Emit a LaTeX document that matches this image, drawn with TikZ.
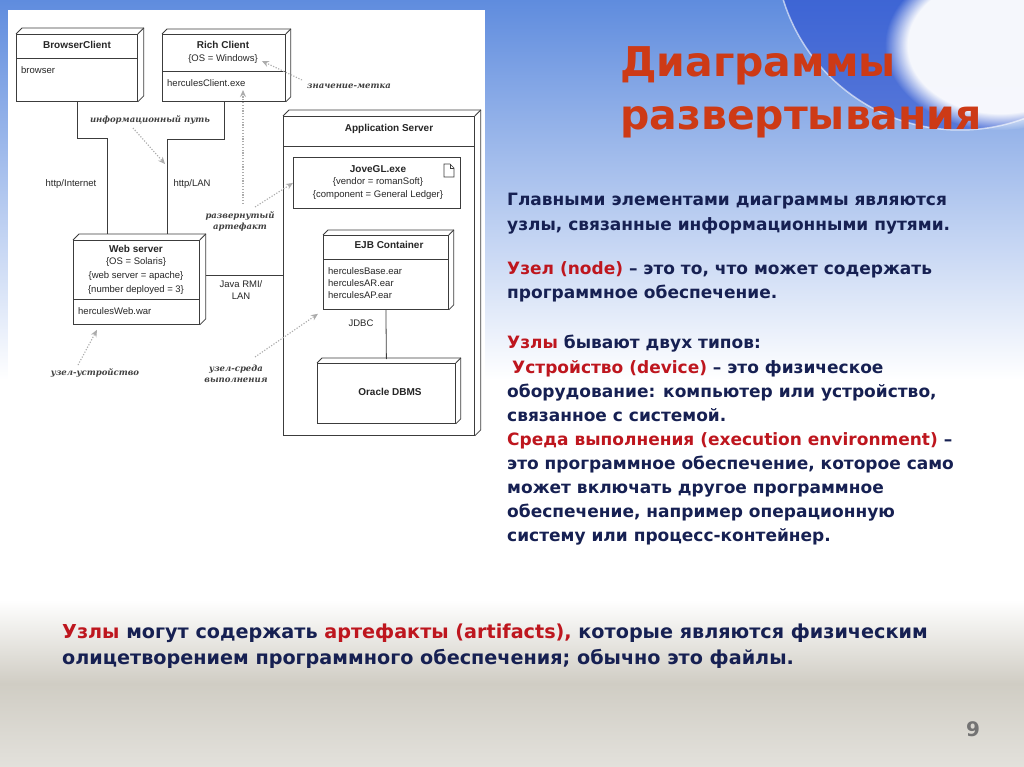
\documentclass[tikz,border=0pt]{standalone}
\usepackage{fontspec}
\setmainfont{DejaVu Sans}
\newfontfamily\dg{Liberation Sans}
\newfontfamily\nt{DejaVu Serif}
\usetikzlibrary{calc,arrows.meta,fadings}
\definecolor{navy}{RGB}{22,32,82}
\definecolor{redt}{RGB}{190,22,30}
\definecolor{titler}{RGB}{205,58,22}
\definecolor{bluebg}{RGB}{95,140,222}
\definecolor{bluelt}{RGB}{150,185,240}
\definecolor{bluedk}{RGB}{35,70,205}
\definecolor{graybg}{RGB}{208,205,196}
\definecolor{lineg}{RGB}{60,60,60}
\tikzset{
 box/.style={draw=lineg, line width=0.8pt, fill=white, anchor=north west, inner sep=0pt},
 dtxt/.style={font=\dg\fontsize{9.5}{12}\selectfont, inner sep=0pt, text=black!85},
 dtitle/.style={font=\dg\bfseries\fontsize{10}{12}\selectfont, inner sep=0pt, text=black!85},
 conn/.style={draw=lineg, line width=0.8pt},
 note/.style={draw=gray!65, line width=1.1pt, dash pattern=on 1.2pt off 1.6pt, -{Stealth[length=7pt,width=6pt]}},
 ntxt/.style={font=\nt\itshape\bfseries\fontsize{8.5}{11}\selectfont, inner sep=0pt, text=black!75},
 body/.style={font=\bfseries\fontsize{17}{19}\selectfont, text=navy, anchor=base west, inner sep=0pt},
 foot/.style={font=\bfseries\fontsize{19.2}{22}\selectfont, text=navy, anchor=base west, inner sep=0pt},
 ttl/.style={font=\bfseries\fontsize{41}{50}\selectfont, text=titler, anchor=base west, inner sep=0pt},
}
\newcommand\threed[2]{%
 \draw[conn] (#1.north west) -- ++(#2,-#2) -- ($(#1.north east)+(#2,-#2)$) -- ($(#1.south east)+(#2,-#2)$) -- (#1.south east);
 \draw[conn] (#1.north east) -- ++(#2,-#2);}
\begin{document}
\begin{tikzpicture}[x=1pt,y=-1pt]
\useasboundingbox (0,0) rectangle (1024,767);
% background
\fill[white] (0,0) rectangle (1024,767);
\shade[top color=bluebg, bottom color=white] (0,0) rectangle (1024,380);
\fill[bluedk, opacity=0.55] (960,-55) circle (185);
\fill[white, path fading=circle with fuzzy edge 20 percent, opacity=0.95] (1000,45) ellipse (115 and 85);
\draw[white, opacity=0.6, line width=1.5pt] (960,-55) circle (185);
\fill[white] (8,10) rectangle (485,445);
\shade[top color=white, bottom color=graybg!60, middle color=graybg] (0,600) rectangle (1024,767);

% BrowserClient
\node[box, minimum width=121, minimum height=67] (bc) at (16,34) {};
\threed{bc}{6}
\draw[conn] (bc.west |- 0,58) -- (bc.east |- 0,58);
\node[dtitle] (bct) at (77,45) {BrowserClient};
\node[dtxt, anchor=west] (bcb) at (21,70) {browser};

% Rich Client
\node[box, minimum width=123, minimum height=67] (rc) at (162,34) {};
\threed{rc}{5}
\draw[conn] (rc.west |- 0,71) -- (rc.east |- 0,71);
\node[dtitle] (rct) at (223,45) {Rich Client};
\node[dtxt] (rcos) at (223,59) {\{OS = Windows\}};
\node[dtxt, anchor=west] (hce) at (167,83) {herculesClient.exe};

% Web server
\node[box, minimum width=126, minimum height=84] (ws) at (73,240) {};
\threed{ws}{6}
\draw[conn] (ws.west |- 0,299) -- (ws.east |- 0,299);
\node[dtitle] (wst) at (136,249) {Web server};
\node[dtxt] (ws1) at (136,262) {\{OS = Solaris\}};
\node[dtxt] (ws2) at (136,276) {\{web server = apache\}};
\node[dtxt] (ws3) at (136,290) {\{number deployed = 3\}};
\node[dtxt, anchor=west] (wsw) at (78,311) {herculesWeb.war};

% Application Server
\node[box, minimum width=191, minimum height=319] (as) at (283,116) {};
\threed{as}{6}
\draw[conn] (as.west |- 0,146) -- (as.east |- 0,146);
\node[dtitle] (ast) at (389,129) {Application Server};

% JoveGL artifact
\node[box, minimum width=167, minimum height=51] (jv) at (293,157) {};
\node[dtitle] (jvt) at (378,169) {JoveGL.exe};
\node[dtxt] (jv1) at (378,182) {\{vendor = romanSoft\}};
\node[dtxt] (jv2) at (378,195) {\{component = General Ledger\}};
\draw[lineg, line width=0.6pt] (444,164) -- (450,164) -- (454,168) -- (454,177) -- (444,177) -- cycle;
\draw[lineg, line width=0.6pt] (450,164) -- (450,168) -- (454,168);

% EJB Container
\node[box, minimum width=125, minimum height=74] (ejb) at (323,235) {};
\threed{ejb}{5}
\draw[conn] (ejb.west |- 0,259) -- (ejb.east |- 0,259);
\node[dtitle] (ejbt) at (389,245) {EJB Container};
\node[dtxt, anchor=west] (e1) at (328,271) {herculesBase.ear};
\node[dtxt, anchor=west] (e2) at (328,283) {herculesAR.ear};
\node[dtxt, anchor=west] (e3) at (328,295) {herculesAP.ear};

% Oracle DBMS
\node[box, minimum width=138, minimum height=60] (ora) at (317,363) {};
\threed{ora}{5}
\node[dtitle] (orat) at (390,392) {Oracle DBMS};

% communication paths
\draw[conn] (bc.south) -- (bc.south |- 0,138) -| ($(ws.north west)+(34,-6)$);
\draw[conn] (rc.south) -- (rc.south |- 0,139) -| ($(ws.north west)+(94,-6)$);
\draw[conn] ($(ws.north east)+(6,35)$) -- (as.west |- 0,275);
\draw[conn] (ejb.south) -- ($(ora.north)+(0,-4)$);
\node[dtxt] (lhi) at (71,184) {http/Internet};
\node[dtxt] (lhl) at (192,184) {http/LAN};
\node[dtxt, align=center] (lrmi) at (241,290) {Java RMI/\\LAN};
\node[dtxt] (ljdbc) at (361,323) {JDBC};

% annotations
\node[ntxt] (nzm) at (349,86) {значение-метка};
\coordinate (zmS) at (302,80);
\draw[note] (zmS) -- ($(rcos.east)+(4,2)$);
\node[ntxt] (nip) at (150,120) {информационный путь};
\coordinate (ipS) at (133,128);
\coordinate (ipE) at (165,164);
\draw[note] (ipS) -- (ipE);
\node[ntxt, align=center] (nra) at (240,221) {развернутый\\артефакт};
\coordinate (raS1) at (243,204);
\coordinate (raE1) at (243,90);
\draw[note] (raS1) -- (raE1);
\coordinate (raS2) at (255,207);
\draw[note] (raS2) -- (jv.west);
\node[ntxt] (nuu) at (95,373) {узел-устройство};
\coordinate (uuS) at (78,365);
\draw[note] (uuS) -- ($(ws.south west)+(24,5)$);
\node[ntxt, align=center] (nus) at (236,374) {узел-среда\\выполнения};
\coordinate (usS) at (255,357);
\draw[note] (usS) -- ($(ejb.south west)+(-5,4)$);

% title
\node[ttl] (t1) at (620,77) {Диаграммы};
\node[ttl] (t2) at (620,130) {развертывания};

% body text
\node[body] (b1) at (507,206) {Главными элементами диаграммы являются};
\node[body] (b2) at (507,230) {узлы, связанные информационными путями.};
\node[body] (b3) at (507,274) {{\color{redt}Узел (node)} – это то, что может содержать};
\node[body] (b4) at (507,298) {программное обеспечение.};
\node[body] (b5) at (507,348) {{\color{redt}Узлы} бывают двух типов:};
\node[body] (b6) at (512,373) {{\color{redt}Устройство (device)} – это физическое};
\node[body] (b7) at (507,397) {оборудование: компьютер или устройство,};
\node[body] (b8) at (507,421) {связанное с системой.};
\node[body] (b9) at (507,445) {{\color{redt}Среда выполнения (execution environment)} –};
\node[body] (b10) at (507,469) {это программное обеспечение, которое само};
\node[body] (b11) at (507,493) {может включать другое программное};
\node[body] (b12) at (507,517) {обеспечение, например операционную};
\node[body] (b13) at (507,541) {систему или процесс-контейнер.};

% footer text
\node[foot] (f1) at (62,638) {{\color{redt}Узлы} могут содержать {\color{redt}артефакты (artifacts),} которые являются физическим};
\node[foot] (f2) at (62,664) {олицетворением программного обеспечения; обычно это файлы.};
\node[font=\bfseries\fontsize{20}{20}\selectfont, text=black!55, inner sep=0pt] (pg) at (973,729) {9};
\end{tikzpicture}
\end{document}
